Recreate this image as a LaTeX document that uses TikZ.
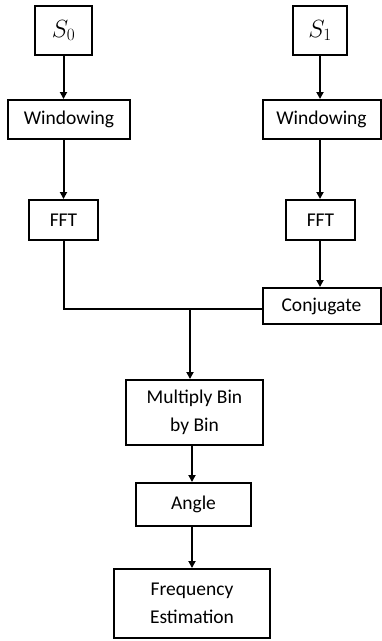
\documentclass[tikz,border=0pt]{standalone}
\usepackage{fontspec}
\setmainfont{Carlito}
\usetikzlibrary{arrows.meta}
\begin{document}
\begin{tikzpicture}[x=1pt,y=1pt,
  blk/.style={draw, line width=2pt, inner sep=0pt, align=center,
    font=\fontsize{19.5}{28}\selectfont},
  flow/.style={line width=2pt, -{Triangle[width=7pt,length=7pt]}},
  wire/.style={line width=2pt}]
\useasboundingbox (0,0) rectangle (382,-641);
% input signals
\node[blk, minimum width=57, minimum height=49] (s0) at (63.5,-30.5) {\fontsize{24}{24}\selectfont$S_0$};
\node[blk, minimum width=54, minimum height=49] (s1) at (320,-30.5) {\fontsize{24}{24}\selectfont$S_1$};
% per-channel processing
\node[blk, minimum width=122, minimum height=39] (win0) at (69,-119.5) {Windowing};
\node[blk, minimum width=118, minimum height=39] (win1) at (321.5,-119.5) {Windowing};
\node[blk, minimum width=69, minimum height=40] (fft0) at (63.5,-220) {FFT};
\node[blk, minimum width=69, minimum height=40] (fft1) at (320.5,-220) {FFT};
\node[blk, minimum width=118, minimum height=36] (conj) at (321.5,-306) {Conjugate};
% combined chain
\node[blk, minimum width=137, minimum height=65] (mult) at (194.5,-412.5) {Multiply Bin\\by Bin};
\node[blk, minimum width=115, minimum height=43] (angle) at (193.5,-504.5) {Angle};
\node[blk, minimum width=156, minimum height=69] (freq) at (192,-603.5) {Frequency\\Estimation};
\coordinate (j) at (190,-309);
% connectors
\draw[flow] (s0.south) -- (s0.south |- win0.north);
\draw[flow] (s0.south |- win0.south) -- (s0.south |- fft0.north);
\draw[flow] (s1.south) -- (s1.south |- win1.north);
\draw[flow] (s1.south |- win1.south) -- (s1.south |- fft1.north);
\draw[flow] (s1.south |- fft1.south) -- (s1.south |- conj.north);
\draw[wire] (fft0.south) |- (j) -- (j -| conj.west);
\draw[flow] (j) -- (j |- mult.north);
\draw[flow] (192,0 |- mult.south) -- (192,0 |- angle.north);
\draw[flow] (192,0 |- angle.south) -- (192,0 |- freq.north);
\end{tikzpicture}
\end{document}
